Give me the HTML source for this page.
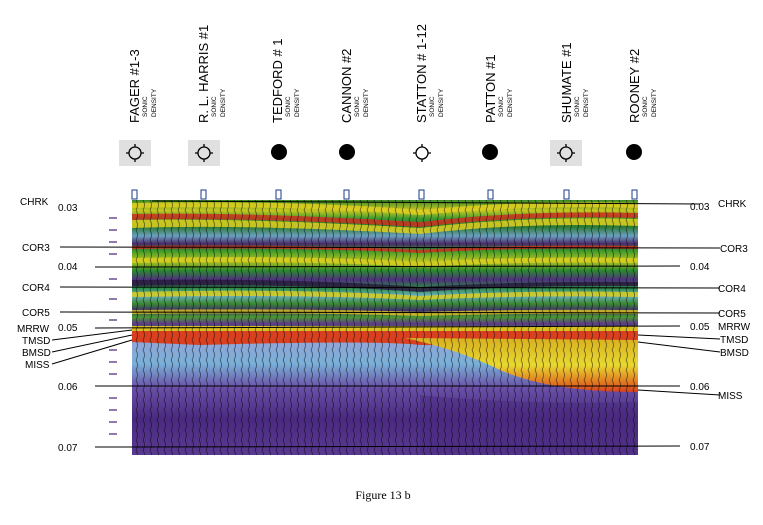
<!DOCTYPE html>
<html><head><style>
body{margin:0;background:#fff;}
svg{display:block;font-family:"Liberation Sans",sans-serif;}
</style></head><body>
<svg width="763" height="525" viewBox="0 0 763 525">
<defs>
<linearGradient id="top" x1="0" y1="0" x2="0" y2="1">
<stop offset="0" stop-color="#3a8a2a"/>
<stop offset="0.08" stop-color="#c8c820"/>
<stop offset="0.14" stop-color="#3a9a30"/>
<stop offset="0.2" stop-color="#2a7a30"/>
<stop offset="0.27" stop-color="#6aa0c0"/>
<stop offset="0.33" stop-color="#4a2a6a"/>
<stop offset="0.38" stop-color="#3a9a2a"/>
<stop offset="0.46" stop-color="#b8c420"/>
<stop offset="0.53" stop-color="#2a8a30"/>
<stop offset="0.6" stop-color="#503080"/>
<stop offset="0.66" stop-color="#2a8a40"/>
<stop offset="0.72" stop-color="#6ab0c0"/>
<stop offset="0.78" stop-color="#3a8a30"/>
<stop offset="0.83" stop-color="#403070"/>
<stop offset="0.88" stop-color="#4a9a30"/>
<stop offset="0.93" stop-color="#603a8a"/>
<stop offset="1" stop-color="#2a8a30"/>
</linearGradient>
<linearGradient id="bot" x1="0" y1="0" x2="0" y2="1">
<stop offset="0" stop-color="#9aa0d8"/>
<stop offset="0.25" stop-color="#7ab0d8"/>
<stop offset="0.45" stop-color="#6a50a8"/>
<stop offset="0.7" stop-color="#4a2a80"/>
<stop offset="1" stop-color="#5a3a90"/>
</linearGradient>
<linearGradient id="wedge" x1="0" y1="0" x2="0" y2="1">
<stop offset="0" stop-color="#d8b020"/>
<stop offset="0.5" stop-color="#e8d830"/>
<stop offset="0.85" stop-color="#e07020"/>
<stop offset="1" stop-color="#d84020"/>
</linearGradient>
<pattern id="wig" width="7" height="10" patternUnits="userSpaceOnUse">
<path d="M3 0 Q6 5 3 10" stroke="#000" stroke-width="0.8" fill="none" opacity="0.55"/>
</pattern>
</defs>
<g font-size="13" fill="#000">
<text transform="translate(139,123) rotate(-90)">FAGER #1-3</text>
<text transform="translate(208,123) rotate(-90)">R. L. HARRIS #1</text>
<text transform="translate(282,123) rotate(-90)">TEDFORD # 1</text>
<text transform="translate(351,123) rotate(-90)">CANNON #2</text>
<text transform="translate(426,123) rotate(-90)">STATTON # 1-12</text>
<text transform="translate(495,123) rotate(-90)">PATTON #1</text>
<text transform="translate(571,123) rotate(-90)">SHUMATE #1</text>
<text transform="translate(639,123) rotate(-90)">ROONEY #2</text>
</g>
<g font-size="6.5" fill="#000">
<g transform="translate(147,117) rotate(-90)"><text>SONIC</text><text y="9">DENSITY</text></g>
<g transform="translate(216,117) rotate(-90)"><text>SONIC</text><text y="9">DENSITY</text></g>
<g transform="translate(290,117) rotate(-90)"><text>SONIC</text><text y="9">DENSITY</text></g>
<g transform="translate(359,117) rotate(-90)"><text>SONIC</text><text y="9">DENSITY</text></g>
<g transform="translate(434,117) rotate(-90)"><text>SONIC</text><text y="9">DENSITY</text></g>
<g transform="translate(503,117) rotate(-90)"><text>SONIC</text><text y="9">DENSITY</text></g>
<g transform="translate(579,117) rotate(-90)"><text>SONIC</text><text y="9">DENSITY</text></g>
<g transform="translate(647,117) rotate(-90)"><text>SONIC</text><text y="9">DENSITY</text></g>
</g>
<rect x="119" y="140" width="32" height="26" fill="#e0e0e0"/>
<rect x="188" y="140" width="32" height="26" fill="#e0e0e0"/>
<rect x="550" y="140" width="32" height="26" fill="#e0e0e0"/>
<g fill="none" stroke="#000" stroke-width="1.3">
<circle cx="135" cy="153" r="6"/><path d="M135 144v3M135 159v3M126 153h3M141 153h3"/>
<circle cx="204" cy="153" r="6"/><path d="M204 144v3M204 159v3M195 153h3M210 153h3"/>
<circle cx="422" cy="153" r="6"/><path d="M422 144v3M422 159v3M413 153h3M428 153h3"/>
<circle cx="566" cy="153" r="6"/><path d="M566 144v3M566 159v3M557 153h3M572 153h3"/>
</g>
<circle cx="279" cy="152" r="8" fill="#000"/>
<circle cx="347" cy="152" r="8" fill="#000"/>
<circle cx="490" cy="152" r="8" fill="#000"/>
<circle cx="634" cy="152" r="8" fill="#000"/>
<g fill="none" stroke="#1a3a8a" stroke-width="1">
<rect x="132" y="190" width="5" height="9"/><rect x="201" y="190" width="5" height="9"/>
<rect x="276" y="190" width="5" height="9"/><rect x="344" y="190" width="5" height="9"/>
<rect x="419" y="190" width="5" height="9"/><rect x="488" y="190" width="5" height="9"/>
<rect x="564" y="190" width="5" height="9"/><rect x="632" y="190" width="5" height="9"/>
</g>
<rect x="132" y="200" width="506" height="133" fill="url(#top)"/>
<!-- colored bands with dip near Statton -->
<g opacity="0.85">
<path d="M132 203 Q300 200 420 210 Q520 200 638 203 L638 208 Q520 205 420 215 Q300 205 132 208Z" fill="#e0d020"/>
<path d="M132 214 Q250 212 420 222 Q520 210 638 213 L638 218 Q520 215 420 227 Q250 217 132 220Z" fill="#d03020"/>
<path d="M132 220 Q250 218 420 228 Q520 216 638 219 L638 226 Q520 222 420 234 Q250 224 132 228Z" fill="#e0d020"/>
<path d="M132 246 Q300 244 420 250 Q520 244 638 246 L638 249 Q520 247 420 253 Q300 247 132 249Z" fill="#d03020"/>
<path d="M132 258 Q300 255 420 262 Q520 256 638 258 L638 263 Q520 261 420 267 Q300 260 132 263Z" fill="#d8d020"/>
<path d="M132 292 Q300 288 420 296 Q520 290 638 292 L638 297 Q520 295 420 300 Q300 294 132 297Z" fill="#d8d020"/>
<path d="M132 280 Q300 278 420 287 Q520 281 638 282 L638 286 Q520 285 420 292 Q300 283 132 286Z" fill="#2a1a40"/>
<path d="M132 310 Q300 308 420 312 Q520 309 638 310 L638 314 Q520 313 420 316 Q300 312 132 314Z" fill="#d8c020"/>
</g>
<rect x="132" y="333" width="506" height="122" fill="url(#bot)"/>
<path d="M132 330 L638 330 L638 345 L420 345 Q380 340 200 345 L132 342Z" fill="#d84020"/>
<path d="M132 326 L638 326 L638 331 L132 331Z" fill="#d8c020"/>
<path d="M405 338 Q460 350 500 370 Q550 392 638 392 L638 340Z" fill="url(#wedge)"/>
<path d="M420 395 Q520 405 638 402 L638 455 L420 455Z" fill="#4a2a80" opacity="0.5"/>
<rect x="132" y="200" width="506" height="255" fill="url(#wig)"/>
<g stroke="#000" stroke-width="1">
<line x1="152" y1="201" x2="700" y2="204"/>
<line x1="60" y1="247" x2="720" y2="248"/>
<line x1="95" y1="267" x2="680" y2="266"/>
<line x1="60" y1="287" x2="720" y2="288"/>
<line x1="60" y1="312" x2="720" y2="313"/>
<line x1="95" y1="328" x2="680" y2="326"/>
<line x1="95" y1="386" x2="680" y2="386"/>
<line x1="95" y1="447" x2="680" y2="446"/>
<line x1="52" y1="340" x2="132" y2="330"/>
<line x1="52" y1="352" x2="132" y2="335"/>
<line x1="52" y1="364" x2="132" y2="340"/>
<line x1="638" y1="335" x2="720" y2="339"/>
<line x1="638" y1="342" x2="720" y2="352"/>
<line x1="638" y1="390" x2="720" y2="395"/>
</g>
<g stroke="#4a2a7a" stroke-width="1.2">
<path d="M109 218h8M109 230h8M109 242h8M109 254h8M109 279h8M109 299h8M109 320h8M109 350h8M109 362h8M109 374h8M109 398h8M109 410h8M109 422h8M109 434h8"/>
</g>
<g font-size="10" fill="#000">
<text x="20" y="205">CHRK</text><text x="58" y="211">0.03</text>
<text x="22" y="251">COR3</text><text x="58" y="270">0.04</text>
<text x="22" y="291">COR4</text><text x="22" y="316">COR5</text>
<text x="17" y="332">MRRW</text><text x="58" y="331">0.05</text>
<text x="22" y="344">TMSD</text><text x="22" y="356">BMSD</text><text x="25" y="368">MISS</text>
<text x="58" y="390">0.06</text><text x="58" y="451">0.07</text>
<text x="690" y="210">0.03</text><text x="718" y="207">CHRK</text>
<text x="720" y="252">COR3</text><text x="690" y="270">0.04</text>
<text x="718" y="292">COR4</text><text x="718" y="317">COR5</text>
<text x="690" y="330">0.05</text><text x="718" y="330">MRRW</text>
<text x="720" y="343">TMSD</text><text x="720" y="356">BMSD</text>
<text x="690" y="390">0.06</text><text x="718" y="399">MISS</text>
<text x="690" y="450">0.07</text>
</g>
<text x="383" y="499" font-family="Liberation Serif,serif" font-size="12" text-anchor="middle">Figure 13 b</text>
</svg>
</body></html>
